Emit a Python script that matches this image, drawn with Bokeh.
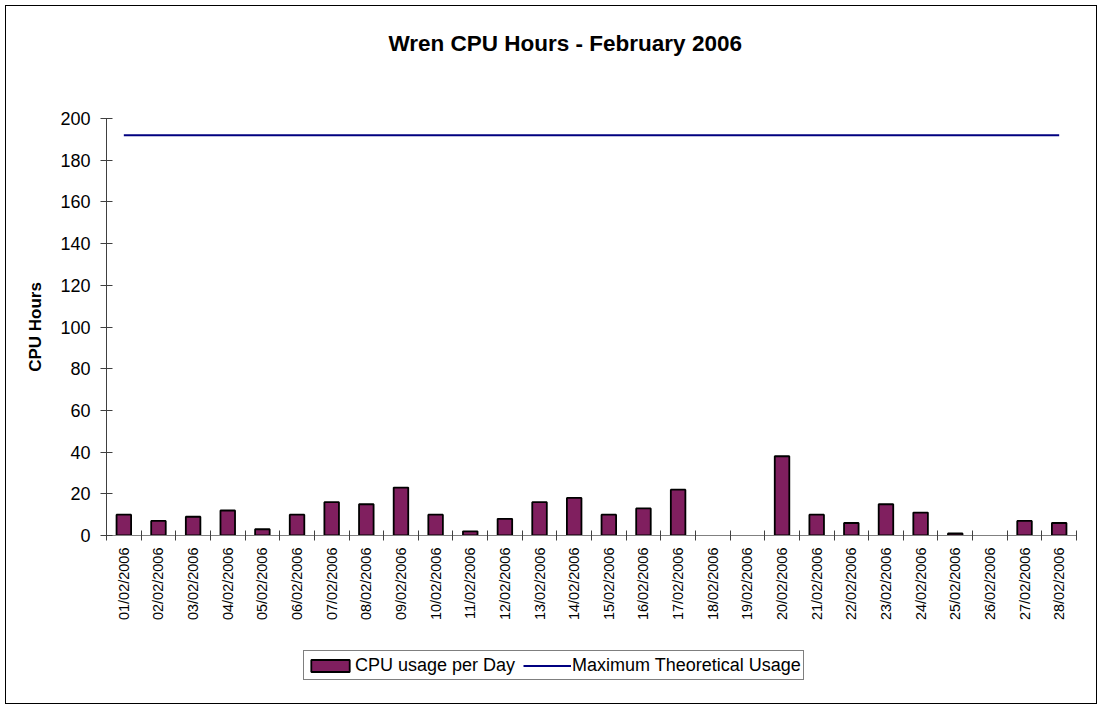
import math
from bokeh.plotting import figure
from bokeh.layouts import column
from bokeh.models import (Range1d, FixedTicker, Legend, LegendItem, ColumnDataSource,
                          Label, CDSView, BooleanFilter)
from bokeh.embed import file_html
from bokeh.resources import INLINE

dates = ["01/02/2006", "02/02/2006", "03/02/2006", "04/02/2006", "05/02/2006",
         "06/02/2006", "07/02/2006", "08/02/2006", "09/02/2006", "10/02/2006",
         "11/02/2006", "12/02/2006", "13/02/2006", "14/02/2006", "15/02/2006",
         "16/02/2006", "17/02/2006", "18/02/2006", "19/02/2006", "20/02/2006",
         "21/02/2006", "22/02/2006", "23/02/2006", "24/02/2006", "25/02/2006",
         "26/02/2006", "27/02/2006", "28/02/2006"]
cpu_usage = [10, 7, 9, 12, 3, 10, 16, 15, 23, 10, 2, 8, 16, 18, 10, 13, 22,
             0, 0, 38, 10, 6, 15, 11, 1, 0, 7, 6]
max_usage = [192, 192, 192, 192, 192, 192, 192, 192, 192, 192, 192, 192, 192, 192,
             192, 192, 192, 192, 192, 192, 192, 192, 192, 192, 192, 192, 192, 192]
y_ticks = [0, 20, 40, 60, 80, 100, 120, 140, 160, 180, 200]
title_text = "Wren CPU Hours - February 2006"

FONT = "Liberation Sans"
BAR_COLOR = "#801F5F"
LINE_COLOR = "#000080"
W = 1090
H_TITLE, H_MAIN, H_LEG = 100, 534, 63
idx = list(range(len(dates)))
src = ColumnDataSource(dict(x=idx, cpu=cpu_usage, mx=max_usage))
nonzero = CDSView(filter=BooleanFilter([v > 0 for v in cpu_usage]))

# ---- title strip ----
t = figure(width=W, height=H_TITLE, output_backend="svg", toolbar_location=None,
           x_range=Range1d(0, 1), y_range=Range1d(0, 1),
           x_axis_type=None, y_axis_type=None, min_border=0)
t.outline_line_color = None
t.background_fill_color = "white"
t.border_fill_color = "white"
t.add_layout(Label(x=282, y=63, x_units="screen", y_units="screen", text=title_text,
                   text_font=FONT, text_font_size="22.5px", text_font_style="bold",
                   text_color="black", text_align="left", text_baseline="middle"))

# ---- main plot ----
p = figure(width=W, height=H_MAIN, output_backend="svg", toolbar_location=None,
           x_range=Range1d(-0.5, len(dates) - 0.5), y_range=Range1d(0, 200),
           min_border_left=100, min_border_right=20, min_border_top=12,
           min_border_bottom=105)
p.background_fill_color = "white"
p.border_fill_color = "white"
p.outline_line_color = None
p.xgrid.visible = False
p.ygrid.visible = False

bars = p.vbar(x="x", top="cpu", width=0.42, source=src, view=nonzero,
              fill_color=BAR_COLOR, line_color="black", line_width=1.8)
ln = p.line(x="x", y="mx", source=src, line_color=LINE_COLOR, line_width=2)

ya = p.yaxis[0]
ya.ticker = FixedTicker(ticks=y_ticks, minor_ticks=[])
ya.major_tick_in = 6
ya.major_tick_out = 6
ya.major_label_standoff = 10
ya.major_label_text_font = FONT
ya.major_label_text_font_size = "18px"
ya.major_label_text_color = "black"
ya.axis_line_color = "#404040"
ya.major_tick_line_color = "#404040"
ya.axis_label = "CPU Hours"
ya.axis_label_text_font = FONT
ya.axis_label_text_font_size = "17px"
ya.axis_label_text_font_style = "bold"
ya.axis_label_text_color = "black"
ya.axis_label_standoff = 12

xa = p.xaxis[0]
xa.ticker = FixedTicker(ticks=idx, minor_ticks=[i - 0.5 for i in range(len(dates) + 1)])
xa.major_label_overrides = {i: d for i, d in zip(idx, dates)}
xa.major_label_orientation = math.pi / 2
xa.major_tick_line_color = None
xa.major_tick_in = 0
xa.major_tick_out = 0
xa.minor_tick_in = 5
xa.minor_tick_out = 5
xa.minor_tick_line_color = "#404040"
xa.axis_line_color = "#808080"
xa.major_label_standoff = 7
xa.major_label_text_font = FONT
xa.major_label_text_font_size = "14.5px"
xa.major_label_text_color = "black"

# ---- legend strip (hidden copies of the series, used only for legend swatches) ----
q = figure(width=W, height=H_LEG, output_backend="svg", toolbar_location=None,
           x_range=Range1d(-0.5, len(dates) - 0.5), y_range=Range1d(1000, 2000),
           x_axis_type=None, y_axis_type=None, min_border=0)
q.outline_line_color = None
q.background_fill_color = "white"
q.border_fill_color = "white"
lbars = q.vbar(x="x", top="cpu", width=0.42, source=src, fill_color=BAR_COLOR,
               line_color="black", line_width=1.8)
lln = q.line(x="x", y="mx", source=src, line_color=LINE_COLOR, line_width=2)
lbars.visible = False
lln.visible = False

legend = Legend(items=[LegendItem(label="CPU usage per Day", renderers=[lbars]),
                       LegendItem(label="Maximum Theoretical Usage", renderers=[lln])],
                orientation="horizontal", location=(197, 23), click_policy="none",
                label_text_font=FONT, label_text_font_size="18px",
                label_text_color="black",
                glyph_width=48, glyph_height=15, label_standoff=1, spacing=8,
                padding=2, margin=0, label_height=24,
                border_line_color="black", border_line_width=1,
                background_fill_color="white", background_fill_alpha=1.0)
q.add_layout(legend)

layout = column(t, p, q, spacing=0,
                styles={"margin": "5px", "border": "1px solid black"})

open("out.html", "w").write(file_html(layout, INLINE))
